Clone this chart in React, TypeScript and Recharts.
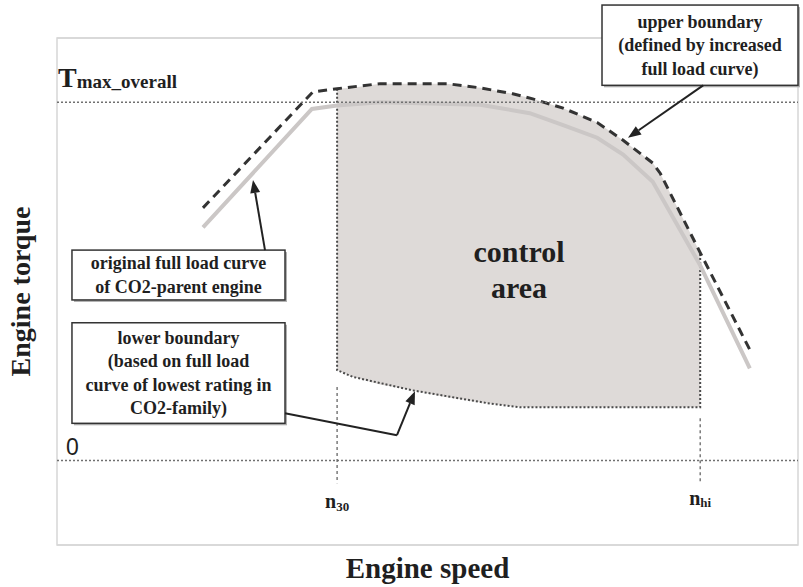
import {
  Area,
  CartesianGrid,
  ComposedChart,
  Line,
  ReferenceArea,
  ReferenceDot,
  ReferenceLine,
  XAxis,
  YAxis,
} from "recharts";

const SERIF = '"Liberation Serif", "DejaVu Serif", serif';
const INK = "#1f1f1f";

// original full load curve of CO2-parent engine
const FULL_X = [19.7, 34.4, 37.8, 43.6, 57.1, 63.8, 68.3, 72.9, 76.4, 80.4, 86.8, 93.5];
const FULL_Y = [2.76, 4.16, 4.2, 4.24, 4.21, 4.11, 3.97, 3.82, 3.62, 3.3, 2.31, 1.09];

// upper boundary (increased full load curve)
const UPPER_X = [19.7, 34.5, 37.8, 43.6, 52.6, 57.1, 61.5, 64.2, 68.3, 72.9, 76.4, 80.4, 81.4, 86.8, 93.5];
const UPPER_Y = [2.99, 4.36, 4.4, 4.46, 4.46, 4.41, 4.34, 4.28, 4.17, 4.0, 3.79, 3.52, 3.4, 2.46, 1.31];

// lower boundary, closed by the n30 / nhi edges
const LOWER_X = [37.8, 37.8, 39.9, 48.0, 58.0, 62.5, 86.8, 86.8];
const LOWER_Y = [4.4, 1.07, 0.99, 0.83, 0.68, 0.63, 0.63, 2.46];

// control area
const AREA_X = [37.8, 39.9, 43.6, 48.0, 52.6, 57.1, 61.5, 64.2, 68.3, 72.9, 76.4, 80.4, 81.4, 86.8];
const AREA_LOW = [1.07, 0.99, 0.9, 0.83, 0.75, 0.69, 0.64, 0.63, 0.63, 0.63, 0.63, 0.63, 0.63, 0.63];
const AREA_HIGH = [4.4, 4.41, 4.46, 4.46, 4.46, 4.41, 4.34, 4.28, 4.17, 4.0, 3.79, 3.52, 3.4, 2.46];

const Y_TICKS = [-1, 0, 1, 2, 3, 4, 5];
const T_MAX = 4.24;
const N30 = 37.8;
const NHI = 86.8;
const N30_Y = [0.87, -0.27];
const NHI_Y = [0.5, -0.27];

const UPPER_NOTE = ["upper boundary", "(defined by increased", "full load curve)"];
const ORIGINAL_NOTE = ["original full load curve", "of CO2-parent engine"];
const LOWER_NOTE = ["lower boundary", "(based on full load", "curve of lowest rating in", "CO2-family)"];

const fullLoad = FULL_X.map((x, i) => ({ x, y: FULL_Y[i] }));
const upper = UPPER_X.map((x, i) => ({ x, y: UPPER_Y[i] }));
const lower = LOWER_X.map((x, i) => ({ x, y: LOWER_Y[i] }));
const control = AREA_X.map((x, i) => ({ x, range: [AREA_LOW[i], AREA_HIGH[i]] }));

function NoteBox(props: any) {
  const { x, y, width, height, lines } = props;
  const lh = 23.5;
  const cx = x + width / 2;
  const first = y + height / 2 - ((lines.length - 1) * lh) / 2 + 6;
  return (
    <g>
      <rect x={x + 2} y={y + 2} width={width} height={height} fill="#b0b0b0" />
      <rect x={x} y={y} width={width} height={height} fill="#fff" stroke="#333" strokeWidth={1.5} />
      <text textAnchor="middle" fontFamily={SERIF} fontWeight="bold" fontSize={18} fill={INK}>
        {lines.map((l: string, i: number) => (
          <tspan key={i} x={cx} y={first + i * lh}>
            {l}
          </tspan>
        ))}
      </text>
    </g>
  );
}

function Arrow(props: any) {
  const { x1, y1, x2, y2, head } = props;
  const a = Math.atan2(y2 - y1, x2 - x1);
  const L = 13;
  const W = 5;
  const bx = x2 - L * Math.cos(a);
  const by = y2 - L * Math.sin(a);
  return (
    <g>
      <line x1={x1} y1={y1} x2={head ? bx : x2} y2={head ? by : y2} stroke="#222" strokeWidth={2} />
      {head && (
        <polygon
          points={`${x2},${y2} ${bx + W * Math.sin(a)},${by - W * Math.cos(a)} ${bx - W * Math.sin(a)},${by + W * Math.cos(a)}`}
          fill="#222"
        />
      )}
    </g>
  );
}

export default function App() {
  return (
    <div style={{ position: "absolute", left: 0, top: 0, width: 803, height: 587, background: "#fff" }}>
      <ComposedChart width={803} height={587} margin={{ top: 38, right: 5, bottom: 0, left: 0 }}>
        <CartesianGrid vertical={false} stroke="#d6d6d6" strokeWidth={1.5} />
        <XAxis
          type="number"
          dataKey="x"
          domain={[0, 100]}
          allowDataOverflow
          height={42}
          tick={false}
          tickLine={false}
          axisLine={false}
          label={(p: any) => (
            <text
              x={p.viewBox.x + p.viewBox.width / 2}
              y={p.viewBox.y + 33}
              textAnchor="middle"
              fontFamily={SERIF}
              fontWeight="bold"
              fontSize={29}
              fill={INK}
            >
              Engine speed
            </text>
          )}
        />
        <YAxis
          type="number"
          domain={[-1, 5]}
          ticks={Y_TICKS}
          interval={0}
          allowDataOverflow
          width={57}
          tick={false}
          tickLine={false}
          axisLine={false}
          label={(p: any) => {
            const cx = p.viewBox.x + 30;
            const cy = p.viewBox.y + p.viewBox.height / 2;
            return (
              <text
                x={cx}
                y={cy}
                transform={`rotate(-90, ${cx}, ${cy})`}
                textAnchor="middle"
                fontFamily={SERIF}
                fontWeight="bold"
                fontSize={28}
                fill={INK}
              >
                Engine torque
              </text>
            );
          }}
        />
        <ReferenceArea x1={0} x2={100} y1={-1} y2={5} fill="none" stroke="#d6d6d6" strokeWidth={1.5} ifOverflow="visible" />

        <Area
          data={control}
          dataKey="range"
          type="linear"
          fill="#d8d3d1"
          fillOpacity={0.85}
          stroke="none"
          isAnimationActive={false}
          activeDot={false}
        />
        <Line
          data={lower}
          dataKey="y"
          type="linear"
          stroke="#4a4a4a"
          strokeWidth={2}
          strokeDasharray="2 2"
          dot={false}
          activeDot={false}
          isAnimationActive={false}
        />
        <Line
          data={fullLoad}
          dataKey="y"
          type="linear"
          stroke="#cbc7c6"
          strokeWidth={4}
          dot={false}
          activeDot={false}
          isAnimationActive={false}
        />
        <Line
          data={upper}
          dataKey="y"
          type="linear"
          stroke="#333"
          strokeWidth={3}
          strokeDasharray="9 6"
          dot={false}
          activeDot={false}
          isAnimationActive={false}
        />

        <ReferenceLine
          y={T_MAX}
          stroke="#707070"
          strokeWidth={1.5}
          strokeDasharray="2 2"
          ifOverflow="visible"
          label={(p: any) => (
            <text x={p.viewBox.x + 1} y={p.viewBox.y - 15} fontFamily={SERIF} fontWeight="bold" fill={INK}>
              <tspan fontSize={28}>T</tspan>
              <tspan fontSize={19} dy={1}>max_overall</tspan>
            </text>
          )}
        />
        <ReferenceLine
          y={0}
          stroke="#707070"
          strokeWidth={1.5}
          strokeDasharray="2 2"
          ifOverflow="visible"
          label={(p: any) => (
            <text x={p.viewBox.x + 9} y={p.viewBox.y - 6} fontFamily='"Liberation Sans", Arial, sans-serif' fontSize={23} fill={INK}>
              0
            </text>
          )}
        />
        <ReferenceLine
          segment={[{ x: N30, y: N30_Y[0] }, { x: N30, y: N30_Y[1] }]}
          stroke="#666"
          strokeWidth={1.3}
          strokeDasharray="3 3"
          ifOverflow="visible"
          label={(p: any) => (
            <text x={p.viewBox.x} y={p.viewBox.y + p.viewBox.height + 25} textAnchor="middle" fontFamily={SERIF} fontWeight="bold" fill={INK}>
              <tspan fontSize={20}>n</tspan>
              <tspan fontSize={13} dy={3}>30</tspan>
            </text>
          )}
        />
        <ReferenceLine
          segment={[{ x: NHI, y: NHI_Y[0] }, { x: NHI, y: NHI_Y[1] }]}
          stroke="#666"
          strokeWidth={1.3}
          strokeDasharray="3 3"
          ifOverflow="visible"
          label={(p: any) => (
            <text x={p.viewBox.x} y={p.viewBox.y + p.viewBox.height + 22} textAnchor="middle" fontFamily={SERIF} fontWeight="bold" fill={INK}>
              <tspan fontSize={20}>n</tspan>
              <tspan fontSize={13} dy={2}>hi</tspan>
            </text>
          )}
        />

        <ReferenceDot
          x={62.35}
          y={2.25}
          r={1}
          fill="none"
          stroke="none"
          ifOverflow="visible"
          label={(p: any) => {
            const cx = p.viewBox.x + p.viewBox.width / 2;
            const cy = p.viewBox.y + p.viewBox.height / 2;
            return (
              <text textAnchor="middle" fontFamily={SERIF} fontWeight="bold" fontSize={30} fill={INK}>
                <tspan x={cx} y={cy - 8}>control</tspan>
                <tspan x={cx} y={cy + 28}>area</tspan>
              </text>
            );
          }}
        />

        <ReferenceLine segment={[{ x: 28.07, y: 2.49 }, { x: 26.45, y: 3.32 }]} ifOverflow="visible" shape={(p: any) => <Arrow {...p} head />} />
        <ReferenceLine segment={[{ x: 87.2, y: 4.44 }, { x: 77.06, y: 3.82 }]} ifOverflow="visible" shape={(p: any) => <Arrow {...p} head />} />
        <ReferenceLine segment={[{ x: 30.77, y: 0.56 }, { x: 45.88, y: 0.3 }]} ifOverflow="visible" shape={(p: any) => <Arrow {...p} />} />
        <ReferenceLine segment={[{ x: 45.88, y: 0.3 }, { x: 48.31, y: 0.82 }]} ifOverflow="visible" shape={(p: any) => <Arrow {...p} head />} />

        <ReferenceArea x1={73.55} x2={100} y1={4.44} y2={5.39} ifOverflow="visible" shape={(p: any) => <NoteBox {...p} lines={UPPER_NOTE} />} />
        <ReferenceArea x1={2.02} x2={30.77} y1={1.9} y2={2.49} ifOverflow="visible" shape={(p: any) => <NoteBox {...p} lines={ORIGINAL_NOTE} />} />
        <ReferenceArea x1={2.02} x2={30.77} y1={0.44} y2={1.63} ifOverflow="visible" shape={(p: any) => <NoteBox {...p} lines={LOWER_NOTE} />} />
      </ComposedChart>
    </div>
  );
}
